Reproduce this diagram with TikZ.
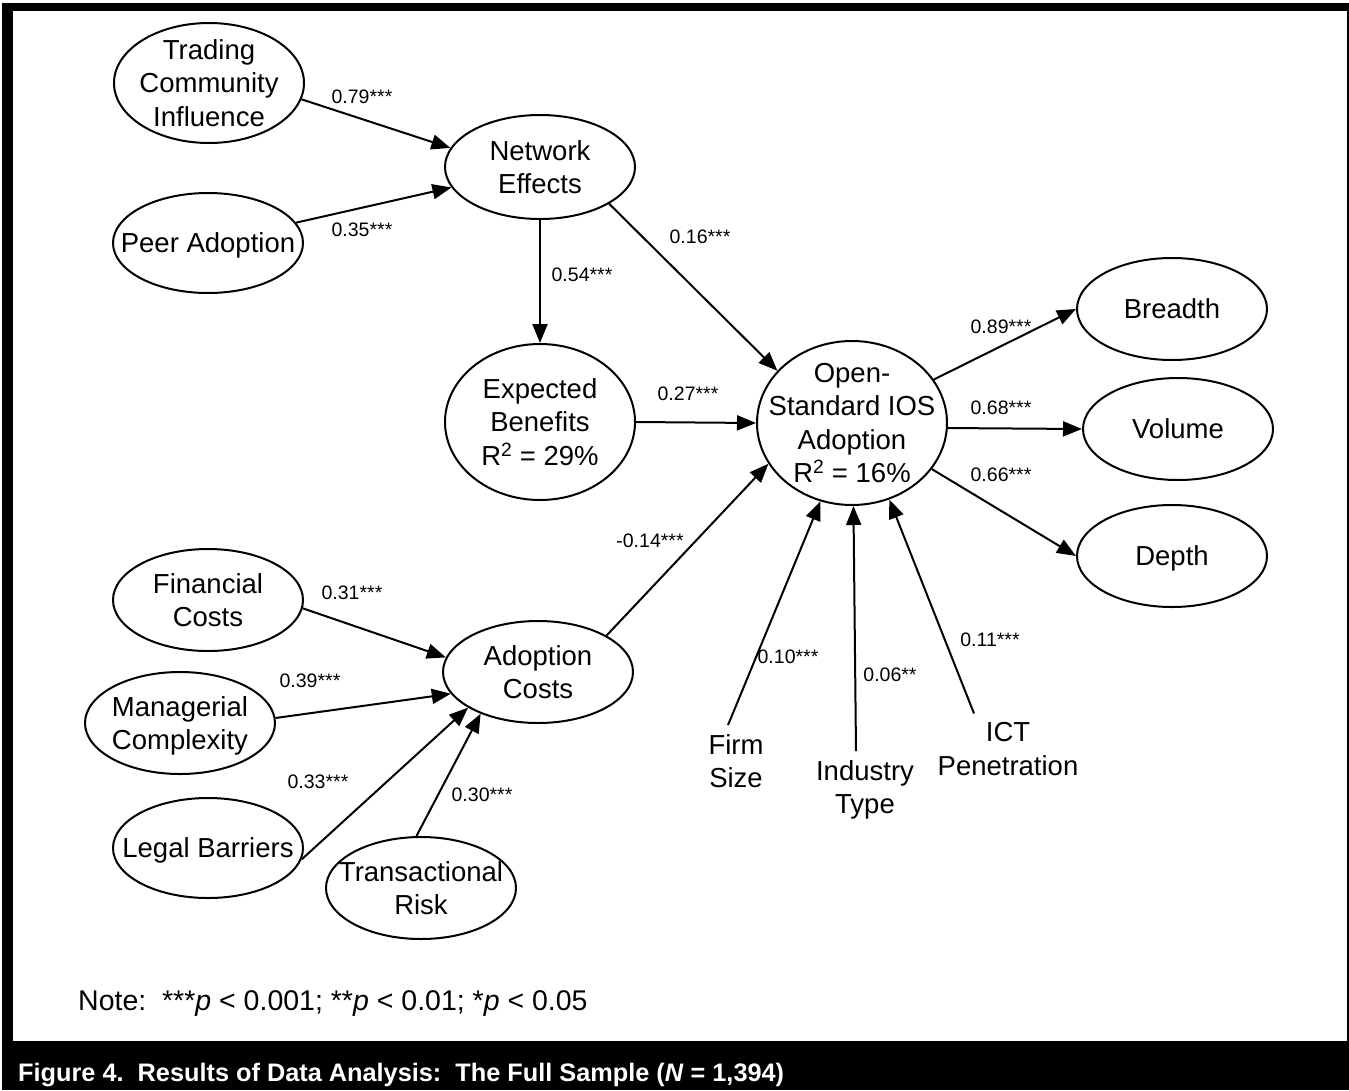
\documentclass[tikz,border=0pt]{standalone}
\usepackage{fontspec}
\setmainfont{Liberation Sans}
\usetikzlibrary{shapes.geometric,arrows.meta}
\newcommand\dgmfont{\fontsize{27.5}{33.5}\selectfont}
\newcommand\coeffont{\fontsize{19.5}{23}\selectfont}
\tikzset{
  lat/.style={ellipse, draw, line width=2pt, inner sep=0pt, fill=white},
  txt/.style={font=\dgmfont, align=center, inner sep=0pt, text depth=0pt},
  obs/.style={font=\dgmfont, align=center, inner sep=9pt, text depth=0pt},
  coef/.style={font=\coeffont, inner sep=0pt},
  arr/.style={line width=2pt, -{Triangle[length=19pt,width=15pt]}},
}
\begin{document}
\begin{tikzpicture}[x=1pt,y=-1pt]
\useasboundingbox (0,0) rectangle (1349,1090);
% frame and caption bar
\fill[white] (0,0) rectangle (1349,1090);
\fill[black] (2,3) rectangle (1349,1090);
\fill[white] (13,11) rectangle (1347,1041);

% latent constructs
\node[lat, minimum width=190pt, minimum height=120pt, label={[txt]center:Trading\\Community\\Influence}] (tci) at (209,83) {};
\node[lat, minimum width=190pt, minimum height=100pt, label={[txt]center:Peer Adoption}] (pa) at (208,243) {};
\node[lat, minimum width=190pt, minimum height=104pt, label={[txt]center:Network\\Effects}] (ne) at (540,167) {};
\node[lat, minimum width=190pt, minimum height=156pt, label={[txt]center:Expected\\Benefits\\R\textsuperscript{2} = 29\%}] (eb) at (540,422) {};
\node[lat, minimum width=190pt, minimum height=164pt, label={[txt]center:Open-\\Standard IOS\\Adoption\\R\textsuperscript{2} = 16\%}] (os) at (852,423) {};
\node[lat, minimum width=190pt, minimum height=102pt, label={[txt]center:Breadth}] (br) at (1172,309) {};
\node[lat, minimum width=190pt, minimum height=102pt, label={[txt]center:Volume}] (vol) at (1178,429) {};
\node[lat, minimum width=190pt, minimum height=102pt, label={[txt]center:Depth}] (dep) at (1172,556) {};
\node[lat, minimum width=190pt, minimum height=102pt, label={[txt]center:Adoption\\Costs}] (ac) at (538,672) {};
\node[lat, minimum width=190pt, minimum height=102pt, label={[txt]center:Financial\\Costs}] (fc) at (208,600) {};
\node[lat, minimum width=190pt, minimum height=102pt, label={[txt]center:Managerial\\Complexity}] (mc) at (180,723) {};
\node[lat, minimum width=190pt, minimum height=100pt, label={[txt]center:Legal Barriers}] (lb) at (208,848) {};
\node[lat, minimum width=190pt, minimum height=102pt, label={[txt]center:Transactional\\Risk}] (tr) at (421,888) {};

% control variables
\node[obs] (fs) at (736,761) {Firm\\Size};
\node[obs] (it) at (865,787) {Industry\\Type};
\node[obs] (ict) at (1008,749) {ICT\\Penetration};

% paths
\draw[arr] (tci.-10) -- (ne.168);
\draw[arr] (pa.13) -- (ne.193);
\draw[arr] (ne.south) -- (eb.north);
\draw[arr] (ne.-28) -- (os.145);
\draw[arr] (eb.east) -- (os.west);
\draw[arr] (os.28) -- (br.west);
\draw[arr] (os.-3) -- (vol.west);
\draw[arr] (os.-30) -- (dep.west);
\draw[arr] (ac.28) -- (os.206);
\draw[arr] (fc.-5) -- (ac.171);
\draw[arr] (mc.3) -- (ac.194);
\draw[arr] (lb.-7) -- (ac.207);
\draw[arr] (tr.95) -- (ac.216);
\draw[arr] ([xshift=-8]fs.north) -- (os.-112);
\draw[arr] ([xshift=-9]it.north) -- (os.-89);
\draw[arr] ([xshift=-34]ict.north) -- (os.-64);

% path coefficients
\node[coef] (k1) at (362,97) {0.79***};
\node[coef] (k2) at (362,230) {0.35***};
\node[coef] (k3) at (582,275) {0.54***};
\node[coef] (k4) at (700,237) {0.16***};
\node[coef] (k5) at (688,394) {0.27***};
\node[coef] (k6) at (1001,327) {0.89***};
\node[coef] (k7) at (1001,408) {0.68***};
\node[coef] (k8) at (1001,475) {0.66***};
\node[coef] (k9) at (650,541) {-0.14***};
\node[coef] (k10) at (788,657) {0.10***};
\node[coef] (k11) at (890,675) {0.06**};
\node[coef] (k12) at (990,640) {0.11***};
\node[coef] (k13) at (352,593) {0.31***};
\node[coef] (k14) at (310,681) {0.39***};
\node[coef] (k15) at (318,782) {0.33***};
\node[coef] (k16) at (482,795) {0.30***};

% note and caption
\node[font=\fontsize{28.5}{32}\selectfont, anchor=base west, inner sep=0pt] (note) at (78,1010)
  {Note:\ \ ***\textit{p} < 0.001; **\textit{p} < 0.01; *\textit{p} < 0.05};
\node[font=\fontsize{25.3}{29}\selectfont\bfseries, text=white, anchor=base west, inner sep=0pt] (cap) at (18,1081)
  {Figure 4.\ \ Results of Data Analysis:\ \ The Full Sample (\textit{N} = 1,394)};
\end{tikzpicture}
\end{document}
